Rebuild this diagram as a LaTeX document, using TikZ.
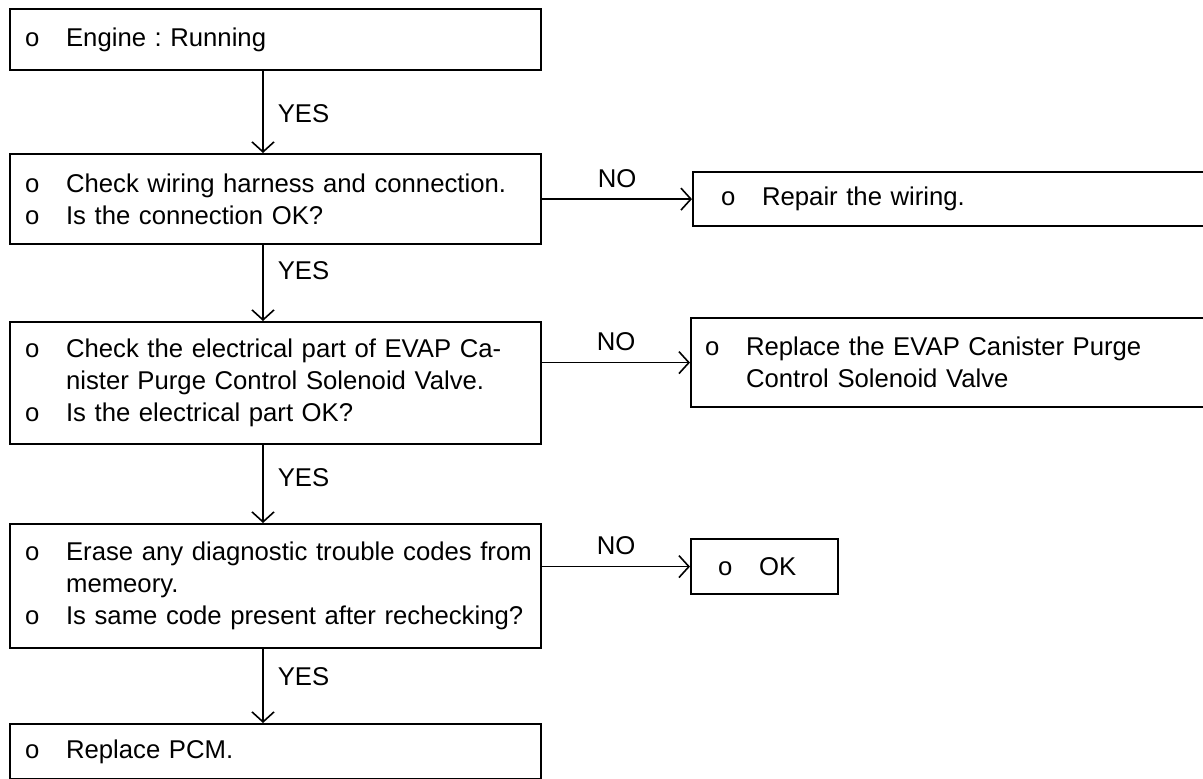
\documentclass[tikz,border=0pt]{standalone}
\usepackage{fontspec}
\setmainfont{Liberation Sans}
\usetikzlibrary{arrows.meta,calc}

% bullet "o" with its own indent, and the indent of a continued line
\newcommand{\bl}[1][6.5pt]{\hspace*{#1}\makebox[20.5pt][l]{o}}
\newcommand{\cont}[1][6.5pt]{\hspace*{\dimexpr#1+20.5pt\relax}}

\begin{document}
\frenchspacing
\begin{tikzpicture}[x=0.5pt,y=-0.5pt,
  box/.style={draw, line width=1.1pt, rectangle, anchor=north west,
    inner xsep=1pt, inner ysep=0pt, align=left,
    font=\fontsize{12.85}{16}\selectfont},
  leftbox/.style={box, text width=263.5pt},
  flow/.style={line width=0.8pt,
    -{Straight Barb[length=5pt,width=11pt,line width=0.8pt]}},
  lbl/.style={font=\fontsize{12.85}{16}\selectfont, inner sep=0pt}]

\useasboundingbox (0,0) rectangle (1203,779);

% main column
\node[leftbox, minimum height=30.5pt] (engine) at (9,8)
  {\bl Engine : Running};
\node[leftbox, minimum height=45pt] (wiring) at (9,153)
  {\bl Check wiring harness and connection.\\
   \bl Is the connection OK?};
\node[leftbox, minimum height=61pt] (elec) at (9,321)
  {\bl Check the electrical part of EVAP Ca-\\
   \cont nister Purge Control Solenoid Valve.\\
   \bl Is the electrical part OK?};
\node[leftbox, minimum height=62pt] (erase) at (9,523)
  {\bl Erase any diagnostic trouble codes from\\
   \cont memeory.\\
   \bl Is same code present after rechecking?};
\node[leftbox, minimum height=27.5pt] (pcm) at (9,723)
  {\bl Replace PCM.};

% side actions
\node[box, text width=257pt, minimum height=27pt] (repair) at (692,171)
  {\bl[13pt]Repair the wiring.};
\node[box, text width=258pt, minimum height=44.5pt] (valve) at (690,317)
  {\bl[6pt]Replace the EVAP Canister Purge\\
   \cont[6pt]Control Solenoid Valve\\[2pt]};
\node[box, text width=71.5pt, minimum height=27.5pt] (ok) at (690,538)
  {\bl[12.5pt]OK};

% vertical line of the YES arrows
\coordinate (spine) at (263,0);

\draw[flow] (engine.south -| spine) --
  node[lbl, anchor=west, xshift=7pt, pos=0.52] {YES} (wiring.north -| spine);
\draw[flow] (wiring.south -| spine) --
  node[lbl, anchor=west, xshift=7pt, pos=0.33] {YES} (elec.north -| spine);
\draw[flow] (elec.south -| spine) --
  node[lbl, anchor=west, xshift=7pt, pos=0.42] {YES} (erase.north -| spine);
\draw[flow] (erase.south -| spine) --
  node[lbl, anchor=west, xshift=7pt, pos=0.37] {YES} (pcm.north -| spine);

\draw[flow] (wiring.east |- repair.west) --
  node[lbl, above=5.5pt] {NO} (repair.west);
\draw[flow] (elec.east |- valve.west) --
  node[lbl, above=5.5pt] {NO} (valve.west);
\draw[flow] (erase.east |- ok.west) --
  node[lbl, above=5.5pt] {NO} (ok.west);
\end{tikzpicture}
\end{document}
